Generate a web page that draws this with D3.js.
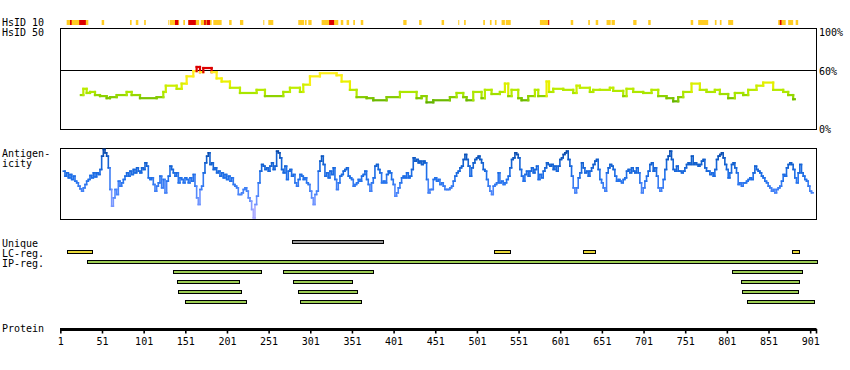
<!DOCTYPE html>
<html><head><meta charset="utf-8">
<script src="https://cdn.jsdelivr.net/npm/d3@7/dist/d3.min.js"></script>
<style>
body{margin:0;background:#fff}
svg{display:block}
text{font-family:"DejaVu Sans Mono",monospace;font-size:10px;fill:#000}
</style>
</head><body>
<svg id="c" width="850" height="370"></svg>
<script>
// ---------------- DATA ----------------
const proteinLength = 908;
const tickLabels = [1,51,101,151,201,251,301,351,401,451,501,551,601,651,701,751,801,851,901];
const pctLabels = [100, 60, 0];
const rowLabels = ["Unique", "LC-reg.", "IP-reg."];

// HsID 10 strip (residue ranges)
const hsidOrange = [[8,34],[50,53],[84,86],[91,94],[101,103],[130,131],[132,143],[148,150],[154,167],[169,182],[184,194],[203,206],[216,220],[244,245],[250,256],[286,288],[288,293],[294,296],[298,302],[314,334],[337,340],[344,347],[352,354],[361,364],[412,416],[431,434],[458,461],[478,479],[485,487],[508,510],[516,518],[522,524],[530,534],[535,541],[576,587],[613,616],[634,636],[643,646],[656,661],[662,666],[688,692],[706,709],[757,760],[766,778],[786,788],[792,794],[802,808],[862,871],[874,880],[883,886]];
const hsidRed = [[12,14],[23,31],[138,142],[154,163],[173,175],[176,180],[323,329],[586,587],[864,866]];

// HsID 50 identity profile (residue, % identity)
const identPos = [25,28,32,36,42,48,56,60,68,80,86,96,116,124,127,140,146,152,160,164,168,172,182,188,194,204,216,236,246,268,276,288,292,300,312,332,338,348,356,368,376,392,408,428,434,440,448,468,476,484,488,496,506,510,518,528,534,538,542,550,554,562,570,574,584,587,592,604,616,620,624,636,640,648,660,664,676,680,688,700,710,718,728,736,742,748,758,768,776,786,792,802,810,820,826,836,844,856,868,874,880,882];
const identVal = [36,42,38,39,36,35,33,34,36,39,36,33,34,39,45,42,47,54,59,63,58,62,58,52,49,43,38,41,35,39,43,39,46,54,57,55,49,41,34,33,31,34,39,33,35,29,31,34,38,34,31,39,33,41,37,39,47,35,41,33,31,35,41,35,49,39,42,41,38,45,43,39,41,41,43,40,35,42,39,38,41,35,33,30,34,39,47,41,39,41,37,33,38,36,41,45,48,41,39,36,32,32];
const identThreshold = 60;

// Antigenicity profile, one value every 2 residues starting at residue 4
const antStart = 4, antStep = 2;
const antVal = [
145,130,140,125,135,120,130,115,110,100,92,85,95,105,115,120,132,125,140,128,
140,135,150,190,210,200,190,155,90,40,65,90,75,115,100,110,120,130,140,130,
145,135,150,140,155,145,140,155,150,170,160,125,120,125,105,85,100,110,130,95,
120,80,115,130,160,150,140,130,140,110,125,120,110,125,120,110,125,115,135,100,
65,45,90,100,140,170,190,200,165,170,150,155,140,145,130,140,125,135,120,130,
115,125,105,100,95,75,75,80,90,95,85,65,55,30,5,45,70,110,145,165,
160,150,155,145,160,170,150,160,205,200,185,150,140,160,120,145,150,130,135,110,
100,120,135,
130,120,125,110,105,85,65,45,75,85,145,175,190,165,130,140,125,145,135,155,
120,90,110,130,135,145,150,155,130,125,120,100,105,110,120,115,130,135,145,120,
105,85,110,125,160,165,150,140,110,115,110,135,145,140,120,105,70,80,95,110,
125,130,125,140,125,130,150,185,175,180,170,175,165,175,170,120,80,90,90,120,
125,115,120,105,110,100,90,90,90,95,100,115,130,140,145,155,160,180,195,180,
160,130,155,170,180,185,190,180,170,150,145,120,100,85,75,100,105,110,140,110,
115,105,110,120,130,155,180,185,200,195,185,150,130,115,135,145,130,145,155,140,
150,160,120,135,125,145,155,170,165,160,165,150,160,145,160,180,185,195,200,205,
180,160,130,95,80,95,125,140,170,155,140,145,130,145,155,165,175,180,150,120,
110,95,85,140,155,165,160,150,130,115,120,115,110,120,125,145,150,140,155,145,
140,155,140,110,80,95,115,130,145,165,170,145,155,130,95,85,95,120,150,180,
190,205,180,150,145,160,145,145,140,145,155,165,170,165,190,165,170,165,160,165,
175,180,155,145,145,135,140,130,150,180,190,195,200,185,165,150,125,140,165,170,
155,140,105,110,100,110,110,115,120,125,120,140,160,150,145,140,130,125,115,110,
100,95,85,90,80,90,95,100,115,135,130,155,165,170,165,150,125,110,140,165,
140,130,120,115,100,85,80];

// Region bars (residue ranges)
const uniqueStart = [278], uniqueEnd = [388];
const lcStart = [8,521,628,879], lcEnd = [38,540,642,887];
const ipStart = [33,136,268,806,141,280,817,142,286,819,150,288,825];
const ipEnd   = [908,241,376,890,215,350,887,217,357,886,223,361,905];
const ipRow   = [0,1,1,1,2,2,2,3,3,3,4,4,4];

// ---------------- DRAW ----------------
const svg = d3.select("#c");
const x = d3.scaleLinear().domain([0, proteinLength]).range([60, 816.5]);
const yId = d3.scaleLinear().domain([0, 100]).range([132.5, 28.5]);
const yIdLabel = d3.scaleLinear().domain([0, 100]).range([133, 36]);
const yAnt = d3.scaleLinear().domain([0, 240]).range([219.5, 139.5]);

const idGrad = d3.scaleLinear().domain([28, 33, 38, 44, 50, 58])
  .range(["#55a800","#7cc400","#a8e600","#c4ee00","#f2f000","#ffee22"]).clamp(true);
const idColor = v => v >= identThreshold ? "#dd0000" : idGrad(v);
const antColor = d3.scaleLinear().domain([5, 60, 120, 175, 210]).range(["#a8a8ff","#5a8cff","#1f70ea","#0f5cc8","#0a44a0"]).clamp(true);

// Left labels
const lab = svg.append("g");
lab.append("text").attr("x", 2).attr("y", 25.7).text("HsID 10");
lab.append("text").attr("x", 2).attr("y", 36).text("HsID 50");
lab.append("text").attr("x", 2).attr("y", 157).text("Antigen-");
lab.append("text").attr("x", 2).attr("y", 166.5).text("icity");
rowLabels.forEach((t, i) => lab.append("text").attr("x", 2).attr("y", 246.5 + i * 10).text(t));
lab.append("text").attr("x", 2).attr("y", 332).text("Protein");

// HsID 10 strip
svg.append("g").selectAll("rect").data(hsidOrange).join("rect")
  .attr("x", d => x(d[0])).attr("y", 20).attr("width", d => Math.max(1, x(d[1]) - x(d[0]))).attr("height", 5)
  .attr("fill", "#ffcc22");
svg.append("g").selectAll("rect").data(hsidRed).join("rect")
  .attr("x", d => x(d[0])).attr("y", 20).attr("width", d => Math.max(1, x(d[1]) - x(d[0]))).attr("height", 5)
  .attr("fill", "#dd0000");

// Identity panel
svg.append("rect").attr("x", 60.5).attr("y", 28.5).attr("width", 756).attr("height", 101)
  .attr("fill", "none").attr("stroke", "#000").attr("stroke-width", 1);
svg.append("line").attr("x1", 60.5).attr("x2", 816.5)
  .attr("y1", Math.round(yId(identThreshold)) + 0.5).attr("y2", Math.round(yId(identThreshold)) + 0.5)
  .attr("stroke", "#000").attr("stroke-width", 1);
svg.append("g").selectAll("text").data(pctLabels).join("text")
  .attr("x", 819).attr("y", d => yIdLabel(d)).text(d => d + "%");

function stepSegs(pos, val, endPos) {
  const segs = [];
  for (let i = 0; i < val.length; i++) {
    const p0 = pos[i], p1 = i + 1 < pos.length ? pos[i + 1] : endPos;
    segs.push({x1: p0, x2: p1, v1: val[i], v2: val[i], v: val[i]});
    if (i + 1 < val.length) segs.push({x1: p1, x2: p1, v1: val[i], v2: val[i + 1], v: Math.max(val[i], val[i + 1])});
  }
  return segs;
}
const idSegs = stepSegs(identPos, identVal.slice(0, identPos.length - 1), identPos[identPos.length - 1]);
svg.append("g").selectAll("line").data(idSegs).join("line")
  .attr("x1", d => x(d.x1)).attr("x2", d => x(d.x2))
  .attr("y1", d => yId(d.v1)).attr("y2", d => yId(d.v2))
  .attr("stroke", d => idColor(d.v)).attr("stroke-width", 2.2).attr("stroke-linecap", "square");

// Antigenicity panel
svg.append("rect").attr("x", 60.5).attr("y", 148.5).attr("width", 756).attr("height", 71)
  .attr("fill", "none").attr("stroke", "#000").attr("stroke-width", 1);
const antPos = antVal.map((_, i) => antStart + i * antStep);
const antSegs = stepSegs(antPos, antVal, antPos[antPos.length - 1] + antStep);
svg.append("g").selectAll("line").data(antSegs).join("line")
  .attr("x1", d => x(d.x1)).attr("x2", d => x(d.x2))
  .attr("y1", d => yAnt(d.v1)).attr("y2", d => yAnt(d.v2))
  .attr("stroke", d => antColor(Math.min(d.v1, d.v2))).attr("stroke-width", 1.6).attr("stroke-linecap", "square");

// Region bars (crisp pixel edges)
const px = v => Math.round(v) + 0.5;
function bars(starts, ends, rows, baseY, fill) {
  svg.append("g").selectAll("rect").data(starts.map((s, i) => ({s, e: ends[i], r: rows ? rows[i] : 0}))).join("rect")
    .attr("x", d => px(x(d.s))).attr("y", d => baseY + d.r * 10)
    .attr("width", d => Math.round(x(d.e)) - Math.round(x(d.s))).attr("height", 3)
    .attr("fill", fill).attr("stroke", "#000").attr("stroke-width", 1);
}
bars(uniqueStart, uniqueEnd, null, 240.5, "#999999");
bars(lcStart, lcEnd, null, 250.5, "#e8d83a");
bars(ipStart, ipEnd, ipRow, 260.5, "#9ccc54");

// Protein axis
const ax = svg.append("g");
ax.append("line").attr("x1", 60).attr("x2", x(proteinLength)).attr("y1", 329.5).attr("y2", 329.5)
  .attr("stroke", "#000").attr("stroke-width", 3);
ax.selectAll("line.t").data(tickLabels.concat([proteinLength])).join("line").attr("class", "t")
  .attr("x1", d => x(d)).attr("x2", d => x(d)).attr("y1", 329).attr("y2", 333.5)
  .attr("stroke", "#000").attr("stroke-width", 1.6);
ax.selectAll("text").data(tickLabels).join("text")
  .attr("x", d => x(d)).attr("y", 344.7).attr("text-anchor", "middle").text(d => d);
</script>
</body></html>
